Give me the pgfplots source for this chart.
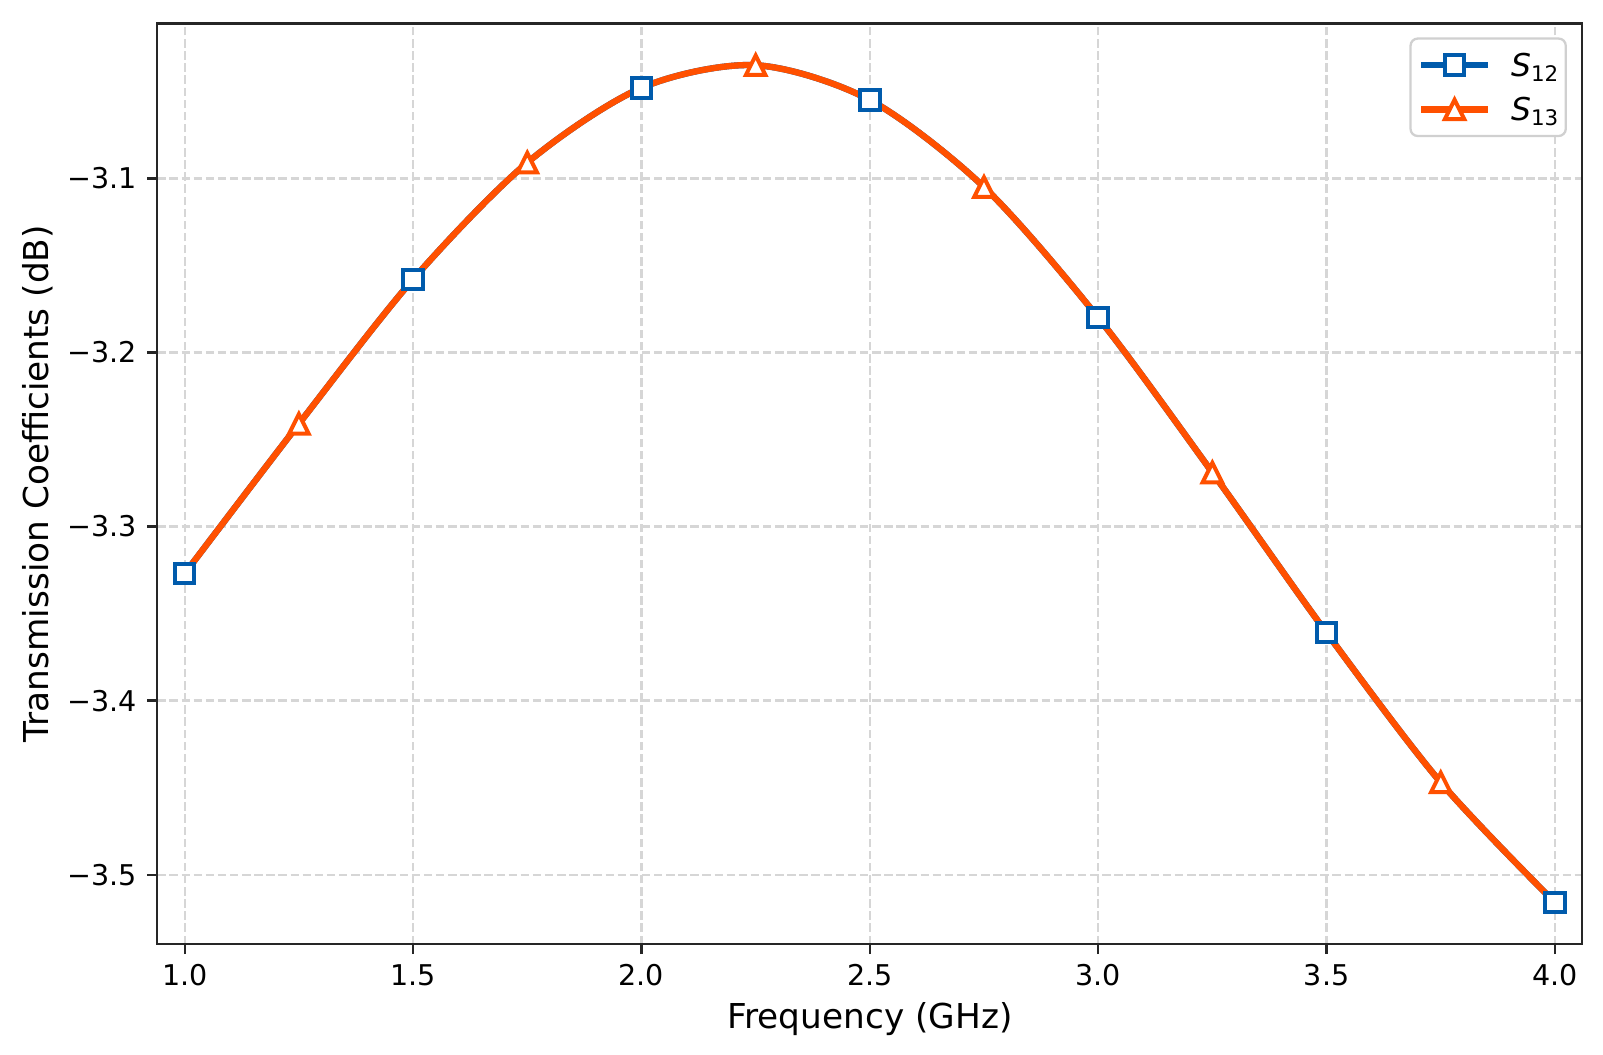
\documentclass[border=0pt]{standalone}
\usepackage{fontspec}
\setmainfont{DejaVu Sans}
\usepackage{pgfplots}
\pgfplotsset{compat=1.18}
\usepackage{pgfplotstable}
\definecolor{cblue}{HTML}{005BAC}
\definecolor{corange}{HTML}{FF5000}
\definecolor{gridc}{HTML}{D6D6D6}
\definecolor{spine}{HTML}{262626}
\definecolor{legframe}{HTML}{D0D0D0}
\pgfdeclareplotmark{mtri}{%
  \pgfpathmoveto{\pgfqpoint{0pt}{\pgfplotmarksize}}%
  \pgfpathlineto{\pgfqpoint{-\pgfplotmarksize}{-\pgfplotmarksize}}%
  \pgfpathlineto{\pgfqpoint{\pgfplotmarksize}{-\pgfplotmarksize}}%
  \pgfpathclose
  \pgfusepathqfillstroke}
\pgfplotstableread{
x y
1.00 -3.327
1.25 -3.241
1.50 -3.158
1.75 -3.091
2.00 -3.048
2.25 -3.035
2.50 -3.055
2.75 -3.105
3.00 -3.180
3.25 -3.269
3.50 -3.361
3.75 -3.447
4.00 -3.516
}\dataA
\pgfplotstableread{
x y
1.00 -3.327
1.25 -3.241
1.50 -3.158
1.75 -3.091
2.00 -3.048
2.25 -3.035
2.50 -3.055
2.75 -3.105
3.00 -3.180
3.25 -3.269
3.50 -3.361
3.75 -3.447
4.00 -3.516
}\dataB
\begin{document}
\begin{tikzpicture}
\begin{axis}[
  scale only axis, width=498.75pt, height=322.2pt,
  xmin=0.94, xmax=4.06, ymin=-3.5398, ymax=-3.011,
  xtick={1,1.5,2,2.5,3,3.5,4},
  xticklabels={1.0,1.5,2.0,2.5,3.0,3.5,4.0},
  ytick={-3.5,-3.4,-3.3,-3.2,-3.1},
  yticklabels={−3.5,−3.4,−3.3,−3.2,−3.1},
  tick pos=left, tick align=outside, major tick length=3.5pt,
  tick style={line width=0.8pt, color=spine},
  axis line style={line width=0.8pt, color=spine},
  grid=major,
  major grid style={line width=0.8pt, color=gridc, dash pattern=on 2.96pt off 1.28pt},
  ticklabel style={font=\fontsize{10}{12}\selectfont, inner sep=0pt},
  xticklabel style={anchor=north},
  yticklabel style={anchor=east},
  xticklabel shift=3.5pt, yticklabel shift=3.5pt,
  xlabel={Frequency (GHz)},
  ylabel={Transmission Coefficients (dB)},
  label style={font=\fontsize{12}{14}\selectfont, inner sep=0pt},
  xlabel style={at={(axis description cs:0.5,-0.09125)}, anchor=base},
  ylabel style={at={(axis description cs:-0.0765,0.5)}, anchor=base},
  legend cell align=left,
  legend image code/.code={\draw[sharp corners,#1,mark indices={2}] plot coordinates {(0pt,0pt)(11.7pt,0pt)(23.4pt,0pt)};},
  legend style={at={(rel axis cs:1,1)}, xshift=-5.4pt, yshift=-4.9pt, anchor=north east,
    draw=legframe, line width=0.8pt, rounded corners=2.5pt, fill=white,
    inner xsep=2.6pt, inner ysep=5.45pt, row sep=7.8pt, column sep=7.0pt,
    nodes={inner sep=0pt, text height=7.7pt, text depth=0pt, sharp corners}},
]
\addplot[color=cblue, line width=2.2pt, line join=round, smooth,
  mark=square*, mark size=3.4pt, mark indices={1,3,5,7,9,11,13},
  mark options={solid, fill=white, line width=1.4pt, line join=miter}]
  table[x=x,y=y] {\dataA};
\addlegendentry{{\fontsize{11}{12}\selectfont\textit{S}}{\fontsize{7.5}{9}\selectfont\raisebox{-1.75pt}{12}}}
\addplot[color=corange, line width=2.2pt, line join=round, smooth,
  mark=mtri, mark size=3.4pt, mark indices={2,4,6,8,10,12},
  mark options={solid, fill=white, line width=1.4pt, line join=miter}]
  table[x=x,y=y] {\dataB};
\addlegendentry{{\fontsize{11}{12}\selectfont\textit{S}}{\fontsize{7.5}{9}\selectfont\raisebox{-1.75pt}{13}}}
\coordinate (o) at (rel axis cs:0,0);
\end{axis}
\pgfresetboundingbox
\path[use as bounding box] ([xshift=-55.06pt,yshift=-38.5pt]o) rectangle ++(561.05pt,368.9pt);
\end{tikzpicture}
\end{document}
